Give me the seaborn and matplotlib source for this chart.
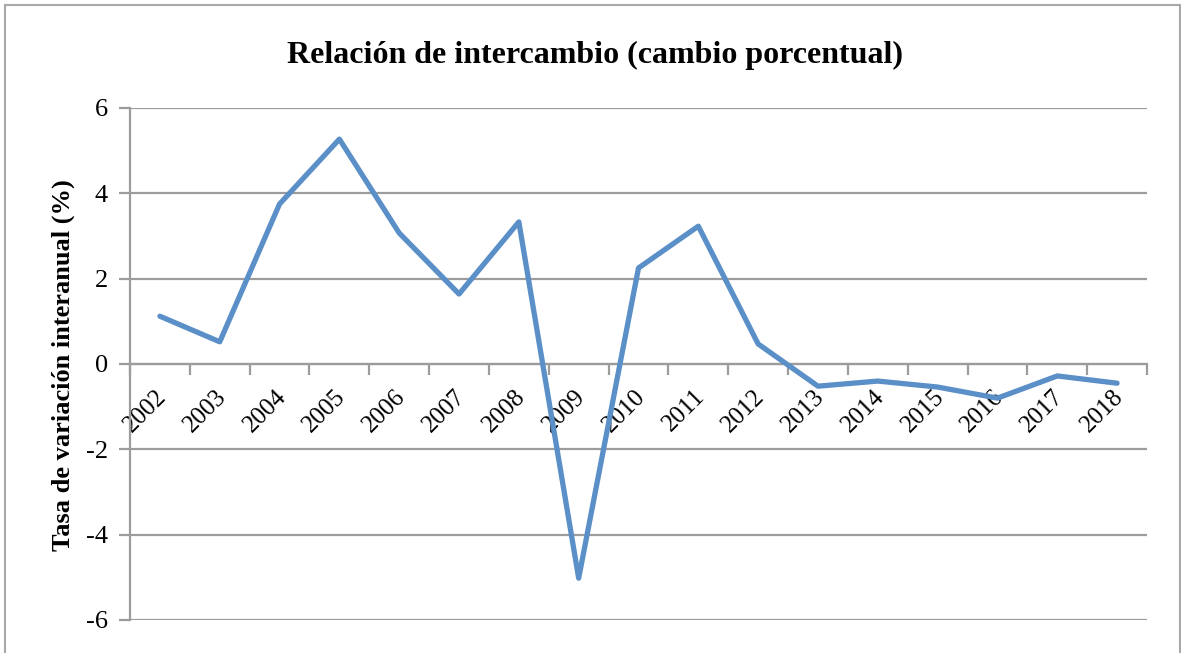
import numpy as np
import pandas as pd
import matplotlib
matplotlib.use("Agg")
import matplotlib.pyplot as plt
from matplotlib.patches import Rectangle
import seaborn as sns

# Terms of trade, year-on-year change (%)
years = ['2002', '2003', '2004', '2005', '2006', '2007', '2008', '2009', '2010',
         '2011', '2012', '2013', '2014', '2015', '2016', '2017', '2018']
values = [1.12, 0.52, 3.75, 5.27, 3.07, 1.64, 3.33, -5.02, 2.25,
          3.23, 0.47, -0.52, -0.40, -0.54, -0.80, -0.28, -0.45]
y_ticks = [-6, -4, -2, 0, 2, 4, 6]

sns.set_style('white')
plt.rcParams['font.family'] = ['Liberation Serif', 'DejaVu Serif']
plt.rcParams['text.color'] = 'black'

df = pd.DataFrame({'pos': np.arange(len(years)), 'valor': values})

fig = plt.figure(figsize=(11.81, 6.53), dpi=100)
ax = fig.add_axes([130 / 1181, 33 / 653, 1017 / 1181, 512 / 653])

grid_col = '#9c9c9c'
for t in y_ticks:
    ax.axhline(t, color=grid_col, lw=1.6, zorder=1)

sns.lineplot(data=df, x='pos', y='valor', color='#5b8fc7', linewidth=3.8,
             ax=ax, zorder=3)

ax.set_xlim(-0.5, len(years) - 0.5)
ax.set_ylim(-6, 6)
ax.set_yticks(y_ticks)
ax.set_yticklabels([str(t) for t in y_ticks], fontsize=19)
ax.tick_params(axis='y', direction='out', length=8, width=1.6, color=grid_col,
               labelcolor='black', pad=8, left=True)

# category axis crossing at zero
ax.spines['bottom'].set_position(('data', 0))
ax.spines['bottom'].set_color(grid_col)
ax.spines['bottom'].set_linewidth(1.6)
ax.spines['left'].set_color(grid_col)
ax.spines['left'].set_linewidth(1.6)
ax.spines['top'].set_visible(False)
ax.spines['right'].set_visible(False)

ax.set_xticks(np.arange(len(years)) + 0.05)
ax.set_xticklabels(years, fontsize=18, rotation=45, ha='right',
                   rotation_mode='anchor', va='center')
ax.set_xticks(np.arange(len(years) + 1) - 0.5, minor=True)
ax.tick_params(axis='x', which='major', length=0, pad=21, labelcolor='black')
ax.tick_params(axis='x', which='minor', direction='out', length=8, width=1.6,
               color=grid_col, bottom=True)
ax.set_xlabel('')
ax.set_ylabel('')

fig.text(595 / 1181, 1 - 55 / 653, 'Relación de intercambio (cambio porcentual)',
         ha='center', va='center', fontsize=23, fontweight='bold', color='black')
fig.text(63 / 1181, 1 - 365 / 653, 'Tasa de variación interanual (%)',
         ha='center', va='center', rotation=90, fontsize=19, fontweight='bold',
         color='black')

# chart area border
fig.patches.append(Rectangle((5 / 1181, -0.1), 1175 / 1181, 1.1 - 5 / 653,
                             transform=fig.transFigure, fill=False,
                             edgecolor='#a8a8a8', lw=1.5))

fig.savefig('out.png', dpi=100)
